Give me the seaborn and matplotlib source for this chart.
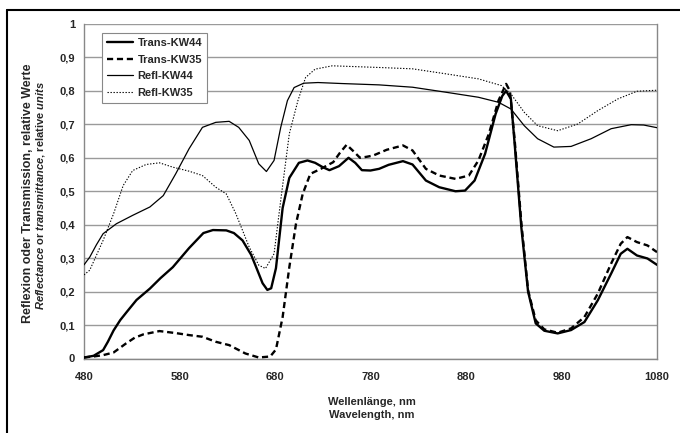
import pandas as pd
import matplotlib
matplotlib.use("Agg")
import matplotlib.pyplot as plt
import seaborn as sns
from matplotlib.lines import Line2D

# --- Daten ---
wl_t44 = [480, 490, 500, 505, 511, 518, 525, 535, 549, 560, 573, 590, 605, 615, 629, 637,
          646, 655, 660, 667, 672, 676, 681, 688, 695, 705, 714, 722, 730, 737, 747, 757,
          764, 771, 780, 789, 799, 814, 824, 838, 852, 869, 879, 889, 900, 911, 918, 922,
          927, 931, 938, 945, 953, 962, 976, 990, 1004, 1018, 1032, 1042, 1049, 1059, 1070, 1080]
trans_kw44 = [0.003, 0.008, 0.025, 0.05, 0.084, 0.115, 0.14, 0.175, 0.209, 0.24, 0.273, 0.33,
              0.375, 0.384, 0.383, 0.375, 0.353, 0.31, 0.275, 0.225, 0.205, 0.21, 0.27, 0.45,
              0.54, 0.585, 0.592, 0.585, 0.572, 0.563, 0.575, 0.6, 0.585, 0.563, 0.562, 0.567,
              0.579, 0.59, 0.58, 0.532, 0.512, 0.5, 0.502, 0.532, 0.612, 0.731, 0.785, 0.8,
              0.776, 0.64, 0.39, 0.2, 0.105, 0.083, 0.075, 0.085, 0.109, 0.174, 0.254, 0.313,
              0.328, 0.308, 0.299, 0.28]

wl_t35 = [480, 490, 500, 511, 524, 533, 542, 559, 576, 590, 604, 618, 632, 649, 663, 675,
          681, 688, 695, 702, 709, 717, 728, 741, 748, 755, 762, 769, 776, 783, 797, 814,
          824, 838, 852, 869, 883, 893, 904, 914, 922, 926, 931, 938, 945, 953, 962, 976,
          990, 1004, 1018, 1032, 1042, 1049, 1059, 1070, 1080]
trans_kw35 = [0.003, 0.006, 0.01, 0.018, 0.045, 0.062, 0.072, 0.082, 0.076, 0.07, 0.065, 0.05,
              0.04, 0.015, 0.003, 0.006, 0.027, 0.124, 0.273, 0.403, 0.492, 0.552, 0.567,
              0.587, 0.615, 0.639, 0.62, 0.6, 0.603, 0.607, 0.624, 0.637, 0.622, 0.567, 0.547,
              0.537, 0.547, 0.592, 0.672, 0.771, 0.821, 0.8, 0.652, 0.404, 0.204, 0.114, 0.087,
              0.077, 0.09, 0.124, 0.194, 0.284, 0.343, 0.363, 0.348, 0.338, 0.318]

wl_r44 = [480, 486, 493, 500, 514, 531, 549, 563, 576, 590, 604, 618, 632, 642, 653, 663,
          671, 679, 686, 693, 700, 710, 725, 750, 789, 824, 859, 893, 914, 927, 941, 955,
          972, 990, 1011, 1032, 1053, 1066, 1080]
refl_kw44 = [0.28, 0.303, 0.34, 0.373, 0.403, 0.428, 0.453, 0.487, 0.552, 0.627, 0.691, 0.706,
             0.709, 0.691, 0.652, 0.582, 0.559, 0.592, 0.691, 0.771, 0.81, 0.823, 0.825, 0.822,
             0.818, 0.811, 0.796, 0.781, 0.766, 0.746, 0.696, 0.657, 0.632, 0.634, 0.657,
             0.687, 0.699, 0.698, 0.69]

wl_r35 = [480, 486, 500, 511, 521, 531, 545, 559, 573, 590, 604, 618, 629, 639, 653, 663,
          670, 679, 686, 695, 704, 712, 722, 740, 760, 789, 824, 859, 893, 917, 927, 941,
          955, 976, 997, 1018, 1039, 1059, 1080]
refl_kw35 = [0.25, 0.264, 0.353, 0.433, 0.517, 0.562, 0.58, 0.585, 0.572, 0.56, 0.547, 0.512,
             0.492, 0.433, 0.333, 0.279, 0.269, 0.313, 0.473, 0.672, 0.771, 0.84, 0.865,
             0.875, 0.873, 0.87, 0.866, 0.851, 0.836, 0.816, 0.791, 0.736, 0.696, 0.681,
             0.701, 0.741, 0.776, 0.799, 0.802]

x_ticks = [480, 580, 680, 780, 880, 980, 1080]
y_ticks = [0, 0.1, 0.2, 0.3, 0.4, 0.5, 0.6, 0.7, 0.8, 0.9, 1.0]
y_tick_labels = ["0", "0,1", "0,2", "0,3", "0,4", "0,5", "0,6", "0,7", "0,8", "0,9", "1"]

# --- Stil ---
sns.set_theme(style="white")
plt.rcParams['font.family'] = ['Liberation Sans', 'DejaVu Sans']
plt.rcParams['font.weight'] = 'bold'
plt.rcParams['mathtext.fontset'] = 'custom'
plt.rcParams['mathtext.it'] = 'Liberation Sans:italic:bold'
plt.rcParams['mathtext.rm'] = 'Liberation Sans:bold'

fig = plt.figure(figsize=(6.8, 4.33), dpi=100)
ax = fig.add_axes([84 / 680, 1 - 358.5 / 433, (657 - 84) / 680, (358.5 - 24) / 433])

serien = [
    ("Trans-KW44", wl_t44, trans_kw44, 1.7, "-"),
    ("Trans-KW35", wl_t35, trans_kw35, 1.7, (0, (2.6, 1.6))),
    ("Refl-KW44", wl_r44, refl_kw44, 0.9, "-"),
    ("Refl-KW35", wl_r35, refl_kw35, 0.8, (0, (1.2, 1.5))),
]
handles = []
for name, xs, ys, lw, ls in serien:
    df = pd.DataFrame({"wl": xs, "val": ys})
    sns.lineplot(data=df, x="wl", y="val", ax=ax, color="black", linewidth=lw,
                 linestyle=ls, zorder=3)
    handles.append(Line2D([], [], color="black", linewidth=lw, linestyle=ls))

ax.set_xlim(480, 1080)
ax.set_ylim(0, 1)
ax.set_xticks(x_ticks)
ax.set_xticklabels([str(t) for t in x_ticks])
ax.set_yticks(y_ticks)
ax.set_yticklabels(y_tick_labels)
ax.tick_params(axis="both", labelsize=8, length=3.5, width=0.8, color="#888888",
               direction="out", pad=3)
ax.tick_params(axis="x", pad=6)
for lab in ax.get_xticklabels() + ax.get_yticklabels():
    lab.set_fontweight("bold")
ax.yaxis.grid(True, color="#9a9a9a", linewidth=1.0)
ax.xaxis.grid(False)
for side in ["left", "bottom", "right"]:
    ax.spines[side].set_color("#888888")
    ax.spines[side].set_linewidth(1.0)
ax.spines["top"].set_visible(False)
ax.set_xlabel("")
ax.set_ylabel("")

# Achsentitel (zweisprachig)
fig.text(28.5 / 680, 1 - 193 / 433, "Reflexion oder Transmission, relative Werte",
         rotation=90, ha="center", va="center", fontsize=9, fontweight="bold")
fig.text(40.5 / 680, 1 - 195.5 / 433,
         r"$\it{Reflectance}$ or $\it{transmittance}$, relative $\it{units}$",
         rotation=90, ha="center", va="center", fontsize=8, fontweight="bold")
fig.text(372 / 680, 1 - 402 / 433, "Wellenlänge, nm", ha="center", va="center",
         fontsize=8, fontweight="bold")
fig.text(372 / 680, 1 - 415 / 433, "Wavelength, nm", ha="center", va="center",
         fontsize=8, fontweight="bold")

leg = ax.legend(handles, [s[0] for s in serien], loc="upper left",
                bbox_to_anchor=((102 - 84) / 573, (358.5 - 33) / 334.5),
                frameon=True, fancybox=False, handlelength=2.35, handletextpad=0.4,
                borderpad=0.45, labelspacing=0.6, borderaxespad=0,
                prop={"size": 8, "weight": "bold"})
leg.get_frame().set_edgecolor("#888888")
leg.get_frame().set_linewidth(0.8)
leg.get_frame().set_alpha(1)

# Rahmen der Abbildung (oben und links sichtbar)
fig.add_artist(Line2D([7 / 680, 1], [1 - 10 / 433, 1 - 10 / 433], transform=fig.transFigure,
                      color="black", linewidth=1.5))
fig.add_artist(Line2D([7 / 680, 7 / 680], [0, 1 - 10 / 433], transform=fig.transFigure,
                      color="black", linewidth=1.5))

fig.savefig("out.png", dpi=100)
